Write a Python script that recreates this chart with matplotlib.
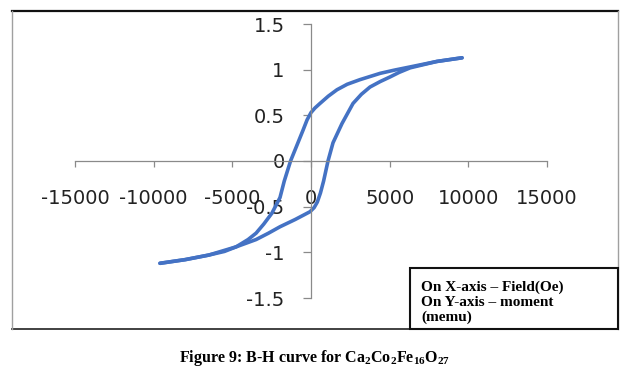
import matplotlib
matplotlib.use("Agg")
import matplotlib.pyplot as plt
from matplotlib.lines import Line2D
from matplotlib.patches import Rectangle

plt.rcParams['axes.unicode_minus'] = False
plt.rcParams['mathtext.fontset'] = 'custom'
plt.rcParams['mathtext.rm'] = 'Liberation Serif:bold'
plt.rcParams['mathtext.bf'] = 'Liberation Serif:bold'
plt.rcParams['mathtext.it'] = 'Liberation Serif:bold'
plt.rcParams['mathtext.default'] = 'rm'

# ---- data ----
field_upper = [9600, 8000, 6300, 5300, 4400, 3100, 2300, 1650, 1100, 570, 250, 0, -250,
               -500, -900, -1300, -1700, -1970, -2480, -3000, -3490, -4000, -4760,
               -5500, -6500, -8000, -9600]
moment_upper = [1.13, 1.09, 1.03, 0.995, 0.96, 0.89, 0.84, 0.78, 0.71, 0.63, 0.58, 0.53, 0.45,
                0.34, 0.17, 0.00, -0.22, -0.40, -0.57, -0.69, -0.79, -0.86, -0.94,
                -0.99, -1.03, -1.08, -1.12]

field_lower = [-9600, -8000, -6500, -4760, -3490, -2700, -1970, -1000, -60, 200, 400, 600,
               800, 1080, 1400, 1970, 2670, 3200, 3750, 4400, 5020, 5600, 6300, 8000, 9600]
moment_lower = [-1.12, -1.08, -1.03, -0.94, -0.86, -0.79, -0.72, -0.64, -0.555, -0.51,
                -0.45, -0.35, -0.22, 0.00, 0.20, 0.41, 0.63, 0.73, 0.81, 0.87, 0.92, 0.97,
                1.02, 1.09, 1.13]

x_ticks = [-15000, -10000, -5000, 0, 5000, 10000, 15000]
x_tick_labels = ['-15000', '-10000', '-5000', '0', '5000', '10000', '15000']
y_ticks = [-1.5, -1, -0.5, 0, 0.5, 1, 1.5]
y_tick_labels = ['-1.5', '-1', '-0.5', '0', '0.5', '1', '1.5']

note_lines = ['On X-axis \u2013 Field(Oe)', 'On Y-axis \u2013 moment', '(memu)']
caption = r'Figure 9: B-H curve for Ca$_2$Co$_2$Fe$_{16}$O$_{27}$'

W, H = 628, 383
fig = plt.figure(figsize=(W / 100, H / 100), dpi=100)
fig.patch.set_facecolor('white')

def fx(px):
    return px / W

def fy(py):
    return 1 - py / H

ax = fig.add_axes([fx(75), fy(298), fx(547) - fx(75), fy(24) - fy(298)])
ax.set_facecolor('none')

line_color = '#4472C4'
ax.plot(field_upper, moment_upper, color=line_color, lw=2.6, solid_capstyle='round',
        solid_joinstyle='round')
ax.plot(field_lower, moment_lower, color=line_color, lw=2.6, solid_capstyle='round',
        solid_joinstyle='round')

ax.set_xlim(-15000, 15000)
ax.set_ylim(-1.5, 1.5)
for s in ['top', 'right']:
    ax.spines[s].set_visible(False)
for s in ['left', 'bottom']:
    ax.spines[s].set_position(('data', 0))
    ax.spines[s].set_color('#8a8a8a')
    ax.spines[s].set_linewidth(0.9)

ax.set_xticks(x_ticks)
ax.set_xticklabels(x_tick_labels)
ax.set_yticks(y_ticks)
ax.set_yticklabels(y_tick_labels)
ax.tick_params(axis='x', direction='out', length=4.5, width=0.9, color='#8a8a8a',
               pad=15.5, labelsize=14, labelcolor='#222222')
ax.tick_params(axis='y', direction='out', length=6, width=0.9, color='#8a8a8a',
               pad=13, labelsize=14, labelcolor='#222222')

# chart frame
fig.add_artist(Line2D([fx(12), fx(618)], [fy(10.5), fy(10.5)], color='#111111', lw=1.6))
fig.add_artist(Line2D([fx(12), fx(618)], [fy(329), fy(329)], color='#333333', lw=1.3))
fig.add_artist(Line2D([fx(12), fx(12)], [fy(10.5), fy(329)], color='#a0a0a0', lw=1.0))
fig.add_artist(Line2D([fx(618), fx(618)], [fy(10.5), fy(329)], color='#a0a0a0', lw=1.0))

# note box
fig.add_artist(Rectangle((fx(410), fy(329)), fx(618) - fx(410), fy(268) - fy(329),
                         facecolor='white', edgecolor='#111111', lw=1.5, zorder=5))
for i, t in enumerate(note_lines):
    fig.text(fx(421), fy(287 + 15 * i), t, family='Liberation Serif', weight='bold',
             fontsize=11, va='center', ha='left', zorder=6)

fig.text(fx(315), fy(358), caption, family='Liberation Serif', weight='bold',
         fontsize=11.5, ha='center', va='center')

fig.savefig('out.png', dpi=100)
